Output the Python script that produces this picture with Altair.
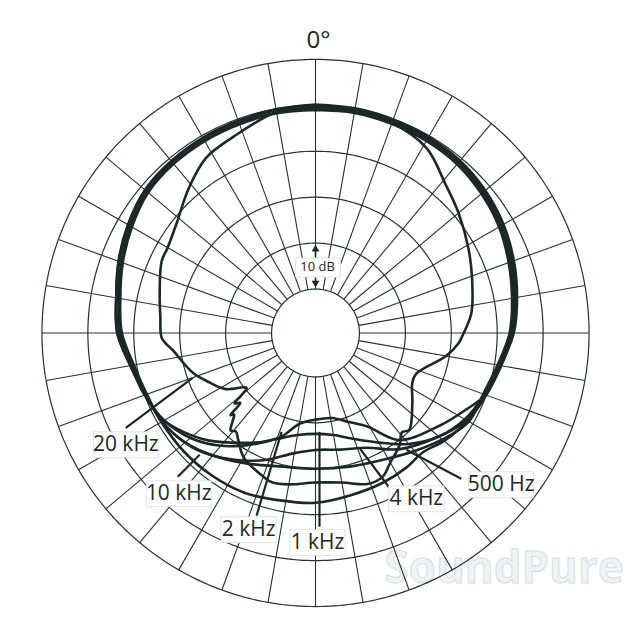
import altair as alt
import pandas as pd
import numpy as np

# ---------------- data -----------------
# polar response: (angle in degrees clockwise from 0° front, level in dB; 0 dB = 5th ring, 10 dB per ring)
resp_500hz = [(0,-0.3),(10,-0.2),(20,-0.5),(30,-0.8),(40,-1.0),(50,-1.8),(60,-2.6),(70,-4.0),(80,-5.3),
              (90,-6.5),(100,-8.5),(110,-10.0),(120,-11.3),(130,-13.0),(138,-14.6),(146,-14.2),(156,-13.8),
              (168,-13.4),(180,-12.6),(192,-12.3),(204,-11.5),(216,-11.2),(228,-11.0),(240,-10.8),(250,-10.2),
              (260,-8.6),(270,-6.4),(280,-5.5),(290,-4.0),(300,-2.5),(310,-1.2),(320,-0.8),(330,-0.6),
              (340,-0.5),(350,-0.3),(360,-0.3)]
resp_1khz = [(0,0.2),(10,0.1),(20,-0.1),(30,-0.3),(40,-0.6),(50,-1.3),(60,-2.3),(70,-3.6),(80,-5.0),
             (90,-6.4),(100,-8.8),(110,-10.4),(120,-12.0),(130,-14.5),(140,-18.0),(150,-22.0),(160,-25.0),
             (170,-27.0),(180,-27.6),(190,-27.0),(200,-25.0),(210,-21.5),(220,-17.5),(230,-14.0),(240,-11.5),
             (250,-10.0),(260,-8.7),(270,-6.4),(280,-5.5),(290,-3.9),(300,-2.4),(310,-1.1),(320,-0.7),
             (330,-0.5),(340,-0.4),(350,-0.1),(360,0.2)]
resp_2khz = [(0,-0.2),(10,-0.1),(20,-0.4),(30,-0.5),(40,-0.9),(50,-1.6),(60,-2.4),(70,-4.2),(80,-5.5),
             (90,-6.8),(100,-8.9),(110,-10.2),(117,-12.8),(127,-15.9),(142,-20.0),(151,-26.3),(160,-29.0),
             (169,-30.7),(180,-30.7),(190,-29.5),(198,-25.9),(205,-23.5),(214,-20.7),(225,-16.5),(233,-13.7),
             (240,-11.5),(250,-10.0),(260,-8.8),(270,-6.6),(280,-5.6),(290,-4.1),(300,-2.6),(310,-1.3),
             (320,-0.9),(330,-0.7),(340,-0.6),(350,-0.2),(360,-0.2)]
resp_4khz = [(0,-0.7),(10,-0.7),(20,-0.9),(30,-1.0),(40,-1.3),(50,-2.1),(60,-3.1),(70,-4.5),(80,-5.8),
             (90,-7.1),(100,-9.1),(110,-10.5),(120,-11.5),(130,-14.5),(144,-18.3),(156,-22.2),(168,-23.6),
             (180,-24.1),(190,-23.0),(201,-20.0),(210,-17.5),(219,-15.0),(230,-12.5),(240,-11.0),(250,-10.3),
             (260,-9.1),(270,-7.1),(280,-6.1),(290,-4.6),(300,-3.1),(310,-1.8),(320,-1.4),(330,-1.2),
             (340,-1.0),(350,-0.8),(360,-0.7)]
resp_10khz = [(0,-1.0),(10,-0.9),(20,-1.1),(30,-1.3),(40,-1.6),(50,-2.4),(60,-3.4),(70,-4.8),(80,-6.1),
              (90,-7.3),(100,-9.3),(110,-10.7),(120,-11.0),(130,-13.5),(140,-16.0),(150,-18.0),(165,-19.5),
              (180,-20.0),(195,-19.5),(210,-17.0),(227,-13.0),(240,-11.0),(250,-10.5),(260,-9.4),(270,-7.4),
              (280,-6.4),(290,-4.9),(300,-3.4),(310,-2.0),(320,-1.5),(330,-1.3),(340,-1.2),(350,-1.0),(360,-1.0)]
resp_20khz = [(0,-0.2),(10,-0.4),(20,-0.9),(31,-2.6),(41,-6.5),(50,-8.9),(61,-11.5),(71,-13.5),(83,-15.4),
              (92,-17.8),(94,-18.3),(100,-20.7),(112,-25.9),(117,-25.9),(126,-23.5),(136,-20.2),(139,-20.9),
              (143,-19.1),(150,-17.0),(155,-15.0),(161,-14.8),(170,-16.5),(180,-17.0),(190,-16.1),(196,-15.7),
              (200,-16.3),(210,-18.3),(216,-20.9),(219,-22.0),(221,-21.4),(223,-23.0),(225,-24.5),(226,-23.8),
              (227,-27.2),(229,-26.2),(230,-28.6),(231.5,-30.4),(238,-26.5),(245,-24.1),(252,-21.5),(263,-18.3),
              (268,-16.1),(276,-15.6),(284,-14.6),(295,-12.6),(300,-12.4),(308,-11.1),(319,-7.6),(328,-4.6),
              (337,-3.3),(350,-0.7),(360,-0.2)]

freq_labels = ["500 Hz", "1 kHz", "2 kHz", "4 kHz", "10 kHz", "20 kHz"]
responses = [resp_500hz, resp_1khz, resp_2khz, resp_4khz, resp_10khz, resp_20khz]

ring_levels_db = [-40, -30, -20, -10, 0, 10]
spoke_angles = list(range(0, 360, 10))

# label placement (page pixels) and leader lines (page pixels)
label_pos = {"20 kHz": (126, 445), "10 kHz": (179, 494), "2 kHz": (249, 530),
             "1 kHz": (318, 543), "4 kHz": (417, 499), "500 Hz": (502, 485)}
leaders = {"20 kHz": (126, 428, 193, 378), "10 kHz": (178, 477, 200, 455),
           "2 kHz": (257, 516, 282, 432), "1 kHz": (320, 527, 320, 432),
           "4 kHz": (390, 488, 360, 448), "500 Hz": (462, 479, 407, 450)}

# ---------------- geometry helpers -----------------
CX, CY = 316, 333
def px(x, y):
    return x - CX, CY - y

def rad(db):
    return 44 + (db + 40) * 4.6

INK = "#1c2727"
GRID = "#243232"

xs = alt.Scale(domain=[-308, 308], nice=False, zero=False)
ys = alt.Scale(domain=[-299, 325], nice=False, zero=False)

# grid rings
theta = np.linspace(0, 2 * np.pi, 361)
ring_rows = []
for lv in ring_levels_db:
    r = rad(lv)
    for i, t in enumerate(theta):
        ring_rows.append({"ring": lv, "i": i, "x": r * np.sin(t), "y": r * np.cos(t)})
rings = alt.Chart(pd.DataFrame(ring_rows)).mark_line(color=GRID, strokeWidth=1.2).encode(
    x=alt.X("x:Q", scale=xs, axis=None), y=alt.Y("y:Q", scale=ys, axis=None),
    detail="ring:N", order="i:Q")

# spokes
r0, r1 = rad(ring_levels_db[0]), rad(ring_levels_db[-1])
spk = pd.DataFrame([{"x": r0 * np.sin(np.radians(a)), "y": r0 * np.cos(np.radians(a)),
                     "x2": r1 * np.sin(np.radians(a)), "y2": r1 * np.cos(np.radians(a))} for a in spoke_angles])
spokes = alt.Chart(spk).mark_rule(color=GRID, strokeWidth=1.1).encode(
    x=alt.X("x:Q", scale=xs, axis=None), y=alt.Y("y:Q", scale=ys, axis=None), x2="x2:Q", y2="y2:Q")

# response curves
rows = []
for f, resp in zip(freq_labels, responses):
    for i, (a, d) in enumerate(resp):
        rows.append({"freq": f, "i": i, "ang": a, "db": d})
curves = alt.Chart(pd.DataFrame(rows)).transform_calculate(
    r="44 + (datum.db + 40) * 4.6"
).transform_calculate(
    x="datum.r * sin(datum.ang * PI / 180)", y="datum.r * cos(datum.ang * PI / 180)"
).mark_line(color=INK, strokeWidth=2.6, strokeJoin="round", interpolate="catmull-rom").encode(
    x=alt.X("x:Q", scale=xs, axis=None), y=alt.Y("y:Q", scale=ys, axis=None),
    detail="freq:N", order="i:Q")

# leader lines
ld = []
for k, (xa, ya, xb, yb) in leaders.items():
    a = px(xa, ya); b = px(xb, yb)
    ld.append({"x": a[0], "y": a[1], "x2": b[0], "y2": b[1]})
leader_lines = alt.Chart(pd.DataFrame(ld)).mark_rule(color=INK, strokeWidth=2.2).encode(
    x=alt.X("x:Q", scale=xs, axis=None), y=alt.Y("y:Q", scale=ys, axis=None), x2="x2:Q", y2="y2:Q")

# label boxes + text
lb = []
for k, (lx, ly) in label_pos.items():
    w = 9.5 * len(k) + 8
    cx, cy = px(lx, ly)
    lb.append({"label": k, "x": cx, "y": cy, "xa": cx - w / 2, "xb": cx + w / 2, "ya": cy - 13, "yb": cy + 13})
lbdf = pd.DataFrame(lb)
boxes = alt.Chart(lbdf).mark_rect(fill="white", stroke="#d5dede", strokeWidth=0.8).encode(
    x=alt.X("xa:Q", scale=xs, axis=None), x2="xb:Q", y=alt.Y("ya:Q", scale=ys, axis=None), y2="yb:Q")
texts = alt.Chart(lbdf).mark_text(font="Open Sans", fontSize=21, color=INK, align="center",
                                  baseline="middle").encode(
    x=alt.X("x:Q", scale=xs, axis=None), y=alt.Y("y:Q", scale=ys, axis=None), text="label:N")

# 10 dB scale marker
tdb = pd.DataFrame([{"t": "10 dB", "x": px(318, 267)[0], "y": px(318, 267)[1],
                     "xa": px(296, 0)[0], "xb": px(341, 0)[0], "ya": px(0, 258)[1], "yb": px(0, 277)[1]}])
dbbox = alt.Chart(tdb).mark_rect(fill="white", stroke="#d5dede", strokeWidth=0.8).encode(
    x=alt.X("xa:Q", scale=xs, axis=None), x2="xb:Q", y=alt.Y("ya:Q", scale=ys, axis=None), y2="yb:Q")
dbtext = alt.Chart(tdb).mark_text(font="Open Sans", fontSize=13, color=INK, align="center",
                                  baseline="middle").encode(
    x=alt.X("x:Q", scale=xs, axis=None), y=alt.Y("y:Q", scale=ys, axis=None), text="t:N")
arr = pd.DataFrame([{"x": 0, "y": rad(-30) - 4, "x2": 0, "y2": px(0, 257)[1]},
                    {"x": 0, "y": rad(-40) + 4, "x2": 0, "y2": px(0, 278)[1]}])
arrow_lines = alt.Chart(arr).mark_rule(color=INK, strokeWidth=1.6).encode(
    x=alt.X("x:Q", scale=xs, axis=None), y=alt.Y("y:Q", scale=ys, axis=None), x2="x2:Q", y2="y2:Q")
heads = pd.DataFrame([{"x": 0, "y": rad(-30) - 5, "s": "triangle-up"},
                      {"x": 0, "y": rad(-40) + 5, "s": "triangle-down"}])
arrow_heads = alt.Chart(heads).mark_point(filled=True, color=INK, size=60, opacity=1).encode(
    x=alt.X("x:Q", scale=xs, axis=None), y=alt.Y("y:Q", scale=ys, axis=None),
    shape=alt.Shape("s:N", scale=None))

# 0° title
zero = pd.DataFrame([{"t": "0°", "x": px(319, 41)[0], "y": px(319, 41)[1]}])
zero_text = alt.Chart(zero).mark_text(font="Open Sans", fontSize=24, color=INK, align="center",
                                      baseline="middle").encode(
    x=alt.X("x:Q", scale=xs, axis=None), y=alt.Y("y:Q", scale=ys, axis=None), text="t:N")

# faint watermark
wm = pd.DataFrame([{"t": "SoundPure", "x": px(505, 570)[0], "y": px(505, 570)[1]}])
wm_text = alt.Chart(wm).mark_text(font="Open Sans", fontSize=44, fontWeight="bold", color="#eef3f5",
                                  stroke="#d4e0e4", strokeWidth=1, align="center", baseline="middle").encode(
    x=alt.X("x:Q", scale=xs, axis=None), y=alt.Y("y:Q", scale=ys, axis=None), text="t:N")

chart = alt.layer(wm_text, rings, spokes, curves, leader_lines, boxes, texts,
                  dbbox, dbtext, arrow_lines, arrow_heads, zero_text).properties(
    width=616, height=624, padding=0, background="white"
).configure_view(stroke=None)

chart.save("out.html", embed_options={"renderer": "svg", "actions": False})
